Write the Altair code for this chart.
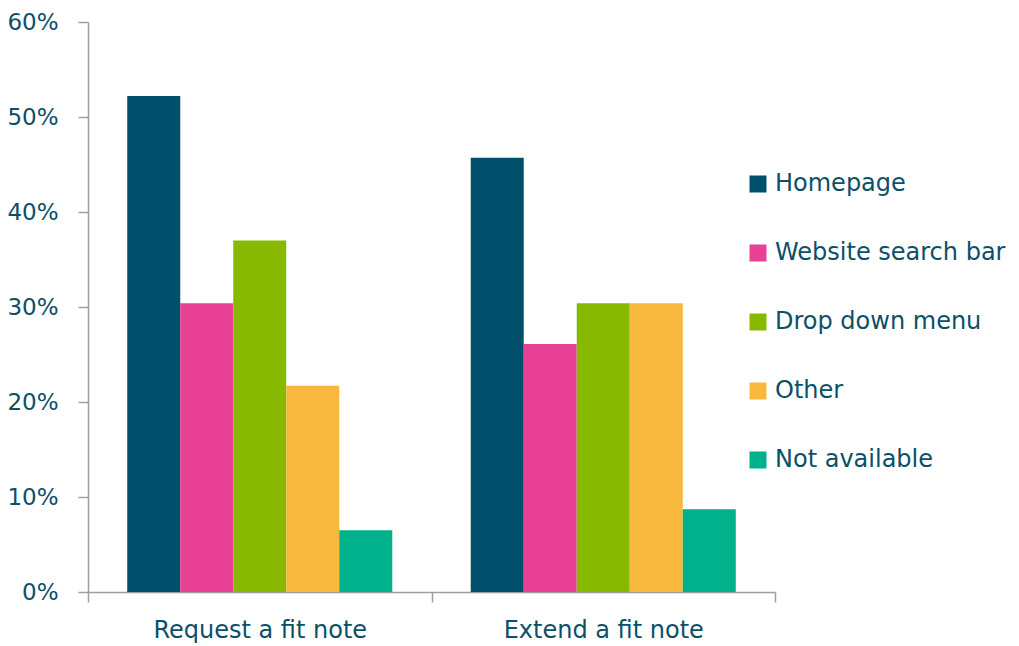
import altair as alt
import pandas as pd

categories = ["Request a fit note", "Extend a fit note"]
series = ["Homepage", "Website search bar", "Drop down menu", "Other", "Not available"]
colors = ["#00506B", "#E84196", "#86B900", "#F8B83E", "#00B18C"]
request_values = [0.522, 0.304, 0.370, 0.217, 0.065]
extend_values = [0.457, 0.261, 0.304, 0.304, 0.087]

rows = []
for s, r, e in zip(series, request_values, extend_values):
    rows.append({"category": categories[0], "source": s, "value": r})
    rows.append({"category": categories[1], "source": s, "value": e})
df = pd.DataFrame(rows)

TEXT = "#0B5068"
AXIS = "#9E9E9E"
FONT = "DejaVu Sans"

chart = alt.Chart(df).mark_bar().encode(
    x=alt.X("category:N", sort=categories, title=None,
            scale=alt.Scale(paddingInner=0, paddingOuter=0),
            axis=alt.Axis(labelAngle=0, tickBand="extent", tickSize=10, labelPadding=16,
                          labelFontSize=24, labelColor=TEXT, labelFont=FONT, labelLimit=400,
                          domainColor=AXIS, tickColor=AXIS, domainWidth=1.5, tickWidth=1.5)),
    xOffset=alt.XOffset("source:N", sort=series,
                        scale=alt.Scale(paddingInner=0, paddingOuter=0.74)),
    y=alt.Y("value:Q", title=None,
            scale=alt.Scale(domain=[0, 0.6], nice=False),
            axis=alt.Axis(format=".0%", values=[0, 0.1, 0.2, 0.3, 0.4, 0.5, 0.6],
                          grid=False, tickSize=10, labelPadding=20,
                          labelFontSize=23, labelColor=TEXT, labelFont=FONT,
                          domainColor=AXIS, tickColor=AXIS, domainWidth=1.5, tickWidth=1.5)),
    color=alt.Color("source:N", sort=series,
                    scale=alt.Scale(domain=series, range=colors),
                    legend=alt.Legend(title=None, orient="none", legendX=658, legendY=150,
                                      symbolType="square", symbolSize=289, symbolStrokeWidth=0,
                                      labelFontSize=24, labelColor=TEXT, labelFont=FONT,
                                      labelOffset=5, rowPadding=45, labelLimit=400)),
).properties(
    width=687, height=570,
    autosize=alt.AutoSizeParams(type="none"),
    padding={"left": 88, "top": 22, "right": 244, "bottom": 54},
).configure_view(stroke=None)

chart.save("out.html", embed_options={"renderer": "svg", "actions": False})
